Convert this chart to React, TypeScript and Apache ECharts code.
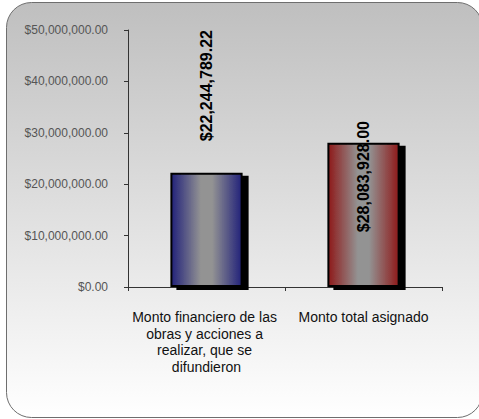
import React, { useEffect, useRef } from "react";
import * as echarts from "echarts";

const categories = [
  "Monto financiero de las obras y acciones a realizar, que se difundieron",
  "Monto total asignado",
];
const values = [22244789.22, 28083928.0];
const edgeColors = ["#22227a", "#8e1a1a"];
const labelPositions: [string, number][] = [
  ["50%", -87],
  ["50%", 34],
];

const fmt = (v: number) =>
  "$" +
  v.toLocaleString("en-US", { minimumFractionDigits: 2, maximumFractionDigits: 2 });

export default function App() {
  const ref = useRef<HTMLDivElement>(null);
  useEffect(() => {
    if (!ref.current) return;
    const chart = echarts.init(ref.current, undefined, { renderer: "svg" });
    chart.setOption({
      animation: false,
      graphic: [
        {
          type: "rect",
          shape: { x: 6.5, y: 2.5, width: 476, height: 415, r: 25 },
          style: {
            fill: new echarts.graphic.LinearGradient(0, 0, 0, 1, [
              { offset: 0, color: "#bfbfbf" },
              { offset: 1, color: "#ffffff" },
            ]),
            stroke: "#6e6e6e",
            lineWidth: 1,
          },
          z: -10,
        },
      ],
      grid: { left: 128, right: 37, top: 30, bottom: 132 },
      xAxis: {
        type: "category",
        data: categories,
        axisLine: { lineStyle: { color: "#333", width: 1 } },
        axisTick: { show: true, length: 4, lineStyle: { color: "#333" } },
        axisLabel: {
          color: "#111",
          fontFamily: "Liberation Sans, Arial, sans-serif",
          fontSize: 14,
          lineHeight: 16.5,
          margin: 22,
          width: 152,
          overflow: "break",
          interval: 0,
        },
      },
      yAxis: {
        type: "value",
        min: 0,
        max: 50000000,
        interval: 10000000,
        splitLine: { show: false },
        axisLine: { show: true, lineStyle: { color: "#333", width: 1 } },
        axisTick: { show: true, length: 4, lineStyle: { color: "#333" } },
        axisLabel: {
          color: "#555",
          fontFamily: "Liberation Sans, Arial, sans-serif",
          fontSize: 12,
          margin: 20,
          formatter: (v: number) => fmt(v),
        },
      },
      series: [
        {
          type: "bar",
          barWidth: "46%",
          data: values.map((v, i) => ({
            value: v,
            itemStyle: {
              color: new echarts.graphic.LinearGradient(0, 0, 1, 0, [
                { offset: 0, color: edgeColors[i] },
                { offset: 0.42, color: "#939393" },
                { offset: 0.58, color: "#939393" },
                { offset: 1, color: edgeColors[i] },
              ]),
              borderColor: "#000",
              borderWidth: 2,
              shadowColor: "#000",
              shadowBlur: 0,
              shadowOffsetX: 6,
              shadowOffsetY: 3,
            },
            label: {
              show: true,
              position: labelPositions[i],
              rotate: 90,
              align: "center",
              verticalAlign: "middle",
              formatter: () => fmt(v),
              color: "#000",
              fontWeight: "bold",
              fontSize: 16,
              fontFamily: "Liberation Sans, Arial, sans-serif",
            },
          })),
        },
      ],
    });
    return () => chart.dispose();
  }, []);
  return (
    <div
      ref={ref}
      style={{ position: "absolute", left: 0, top: 0, width: 479, height: 419 }}
    />
  );
}
